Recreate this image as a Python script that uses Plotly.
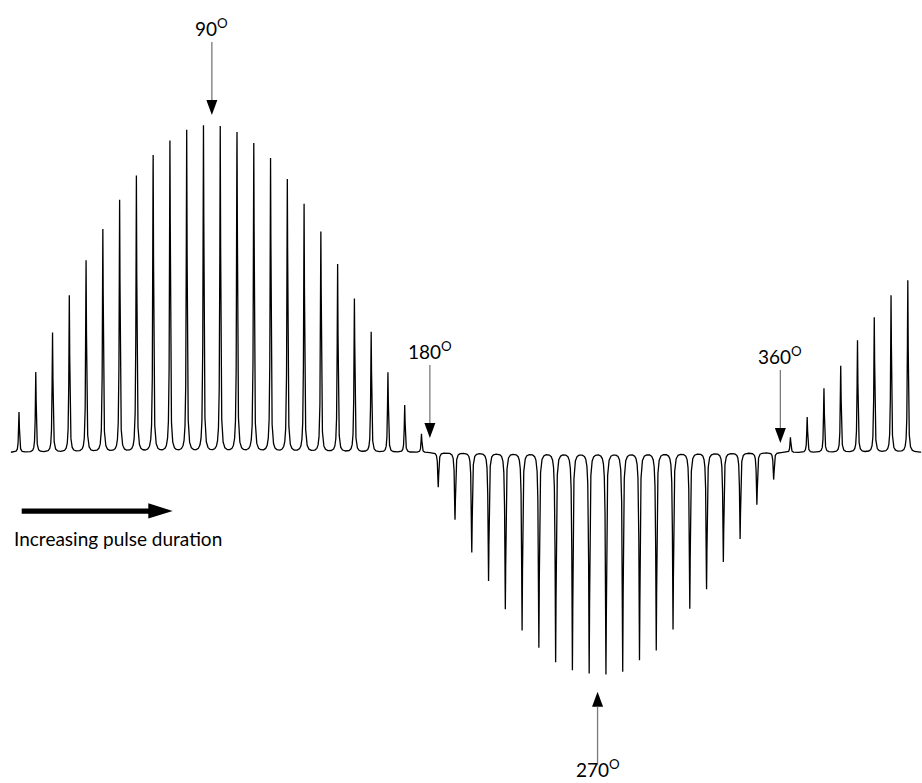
import numpy as np
import plotly.graph_objects as go

# ---- data: signal amplitude of each spectrum in the pulse-duration array ----
pos1_amp = [40.3, 80.3, 119.7, 156.7, 191.7, 223.0, 252.0, 276.3, 296.7, 311.3,
            322.0, 326.3, 325.7, 319.7, 308.7, 293.7, 272.7, 248.0, 220.3, 188.0,
            153.7, 120.3, 80.0, 47.3, 18.7]
neg_amp = [-34.7, -67.0, -99.7, -128.0, -156.3, -177.3, -194.7, -209.0, -217.0,
           -220.3, -221.3, -218.5, -207.0, -197.3, -176.3, -155.7, -136.3, -109.0,
           -86.3, -52.0, -27.0]
pos2_amp = [15.3, 35.5, 64.0, 86.5, 112.0, 135.0, 157.0, 172.0]
amplitudes = pos1_amp + neg_amp + pos2_amp

angle_labels = ["90<sup>O</sup>", "180<sup>O</sup>", "270<sup>O</sup>", "360<sup>O</sup>"]
angle_index = [11.5, 24.5, 34.5, 45.4]
angle_tip = [337.5, 14.5, -239.2, 9.5]
angle_dir = [-1, -1, 1, -1]   # -1: arrow points down, 1: arrow points up

caption = "Increasing pulse duration"

# ---- build the spectrum trace from the amplitudes (Lorentzian lines) ----
n = len(amplitudes)
centers = np.arange(n, dtype=float)
xs = np.unique(np.concatenate([np.linspace(-0.48, 53.8, 24000), centers]))
ys = np.zeros_like(xs)
for c, a in zip(centers, amplitudes):
    g = 0.030 if a > 0 else 0.034
    ys += a * g * g / (g * g + (xs - c) ** 2)

fig = go.Figure()
fig.add_trace(go.Scatter(x=xs, y=ys, mode="lines",
                         line=dict(color="black", width=1.3),
                         hoverinfo="skip", showlegend=False))

FONT = "Lato"
shapes = []
annotations = []
HEAD_H, HEAD_W, LINE_L = 15, 11, 58
for lab, xi, tip, d in zip(angle_labels, angle_index, angle_tip, angle_dir):
    s = -d  # pixel direction from tip toward the tail (up is positive)
    gap = 12 if d < 0 else 7
    shapes.append(dict(type="path", xref="x", yref="y", xsizemode="pixel", ysizemode="pixel",
                       xanchor=xi, yanchor=tip,
                       path=f"M {-HEAD_W/2},{s*HEAD_H} L {HEAD_W/2},{s*HEAD_H} L 0,0 Z",
                       fillcolor="black", line=dict(width=0)))
    shapes.append(dict(type="line", xref="x", yref="y", xsizemode="pixel", ysizemode="pixel",
                       xanchor=xi, yanchor=tip, x0=0, x1=0,
                       y0=s*HEAD_H, y1=s*(HEAD_H + LINE_L),
                       line=dict(color="#7a7a7a", width=1.3)))
    annotations.append(dict(x=xi, y=tip, xref="x", yref="y", text=lab, showarrow=False,
                            xanchor="center", yanchor="middle",
                            yshift=s*(HEAD_H + LINE_L + gap) + 3,
                            font=dict(family=FONT, size=19, color="black")))

# thick "increasing pulse duration" arrow (pixels from top-left corner)
shapes.append(dict(type="path", xref="paper", yref="paper", xsizemode="pixel", ysizemode="pixel",
                   xanchor=0, yanchor=1,
                   path="M 21.7,-508.4 L 148.3,-508.4 L 148.3,-503.3 L 172.7,-511 "
                        "L 148.3,-518.6 L 148.3,-513.7 L 21.7,-513.7 Z",
                   fillcolor="black", line=dict(width=0)))
annotations.append(dict(x=12/922, y=1-538/783, xref="paper", yref="paper", text=caption,
                        showarrow=False, xanchor="left", yanchor="middle",
                        font=dict(family=FONT, size=19, color="black")))

x_per_px = 1/16.77
fig.update_layout(
    width=922, height=783,
    margin=dict(l=0, r=0, t=0, b=0),
    paper_bgcolor="white", plot_bgcolor="white",
    xaxis=dict(range=[-19*x_per_px, (922-19)*x_per_px], visible=False, fixedrange=True),
    yaxis=dict(range=[452.5-783, 452.5], visible=False, fixedrange=True),
    shapes=shapes, annotations=annotations,
    showlegend=False,
)
fig.write_html("out.html", config={"displayModeBar": False},
               post_script="document.body.style.margin='0';"
                           "document.body.style.overflow='hidden';"
                           "document.documentElement.style.overflow='hidden';")
